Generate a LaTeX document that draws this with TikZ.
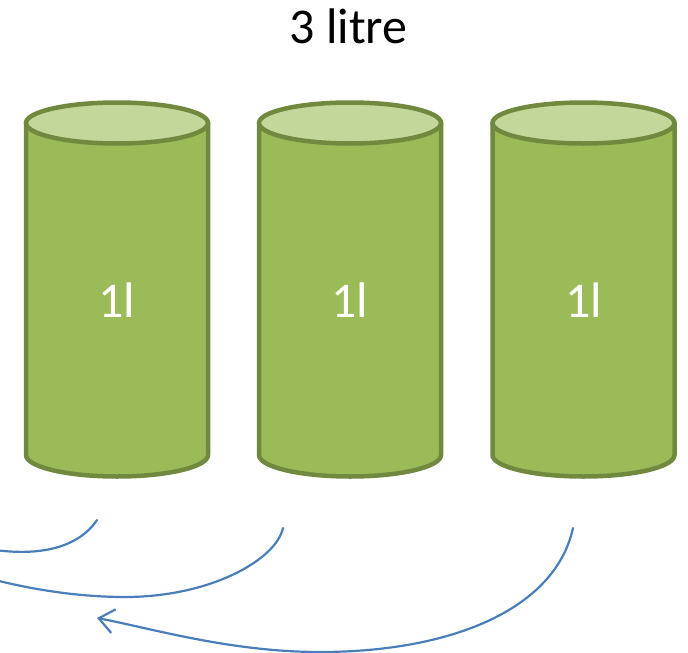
\documentclass[tikz,border=0pt]{standalone}
\usepackage{fontspec}
\setmainfont{Carlito}
\usetikzlibrary{arrows.meta}
\definecolor{cylbody}{HTML}{9BBB59}
\definecolor{cyltop}{HTML}{C4D79B}
\definecolor{cylline}{HTML}{71893F}
\definecolor{flow}{HTML}{4A7EBB}
\tikzset{
  cylside/.style={fill=cylbody, draw=cylline, line width=4.5pt, line join=round},
  cyllid/.style={fill=cyltop, draw=cylline, line width=4.5pt},
  vol/.style={text=white, font=\fontsize{50}{50}\selectfont, inner sep=0pt},
  heading/.style={text=black, font=\fontsize{50}{50}\selectfont, inner sep=0pt},
  flowline/.style={draw=flow, line width=2.2pt, line cap=round},
}
% one cylinder: #1 = centre x, #2 = name
\newcommand{\litrecyl}[2]{%
  \path[cylside] (#1-91,123) -- (#1-91,455)
    arc[start angle=180, end angle=0, x radius=91, y radius=21.5]
    -- (#1+91,123) -- cycle;
  \path[cyllid] (#1,123) ellipse[x radius=91, y radius=20.5];
  \node[vol] (#2) at (#1,300.5) {1l};
}
\begin{document}
\begin{tikzpicture}[x=1pt, y=-1pt]
  \useasboundingbox (0,0) rectangle (688,653);
  \clip (0,0) rectangle (688,653);

  \node[heading] (title) at (348.5,26.5) {3 litre};

  \litrecyl{117}{c1}
  \litrecyl{350}{c2}
  \litrecyl{583.5}{c3}

  % loose ends of the flow arcs
  \coordinate (s1) at (97,520);
  \coordinate (e1) at (-5,550);
  \coordinate (s2) at (283,528);
  \coordinate (m2) at (125,597);
  \coordinate (e2) at (-5,580);
  \coordinate (s3) at (573,528);
  \coordinate (m3) at (320,652);
  \coordinate (e3) at (97,618);

  \draw[flowline] (s1) .. controls (78,548) and (40,556) .. (e1);
  \draw[flowline] (s2) .. controls (276,560) and (210,597) .. (m2)
    .. controls (80,597) and (35,590) .. (e2);
  \draw[flowline, -{Straight Barb[length=15pt, width=24pt]}]
    (s3) .. controls (555,610) and (450,652) .. (m3)
    .. controls (230,652) and (150,628) .. (e3);
\end{tikzpicture}
\end{document}
